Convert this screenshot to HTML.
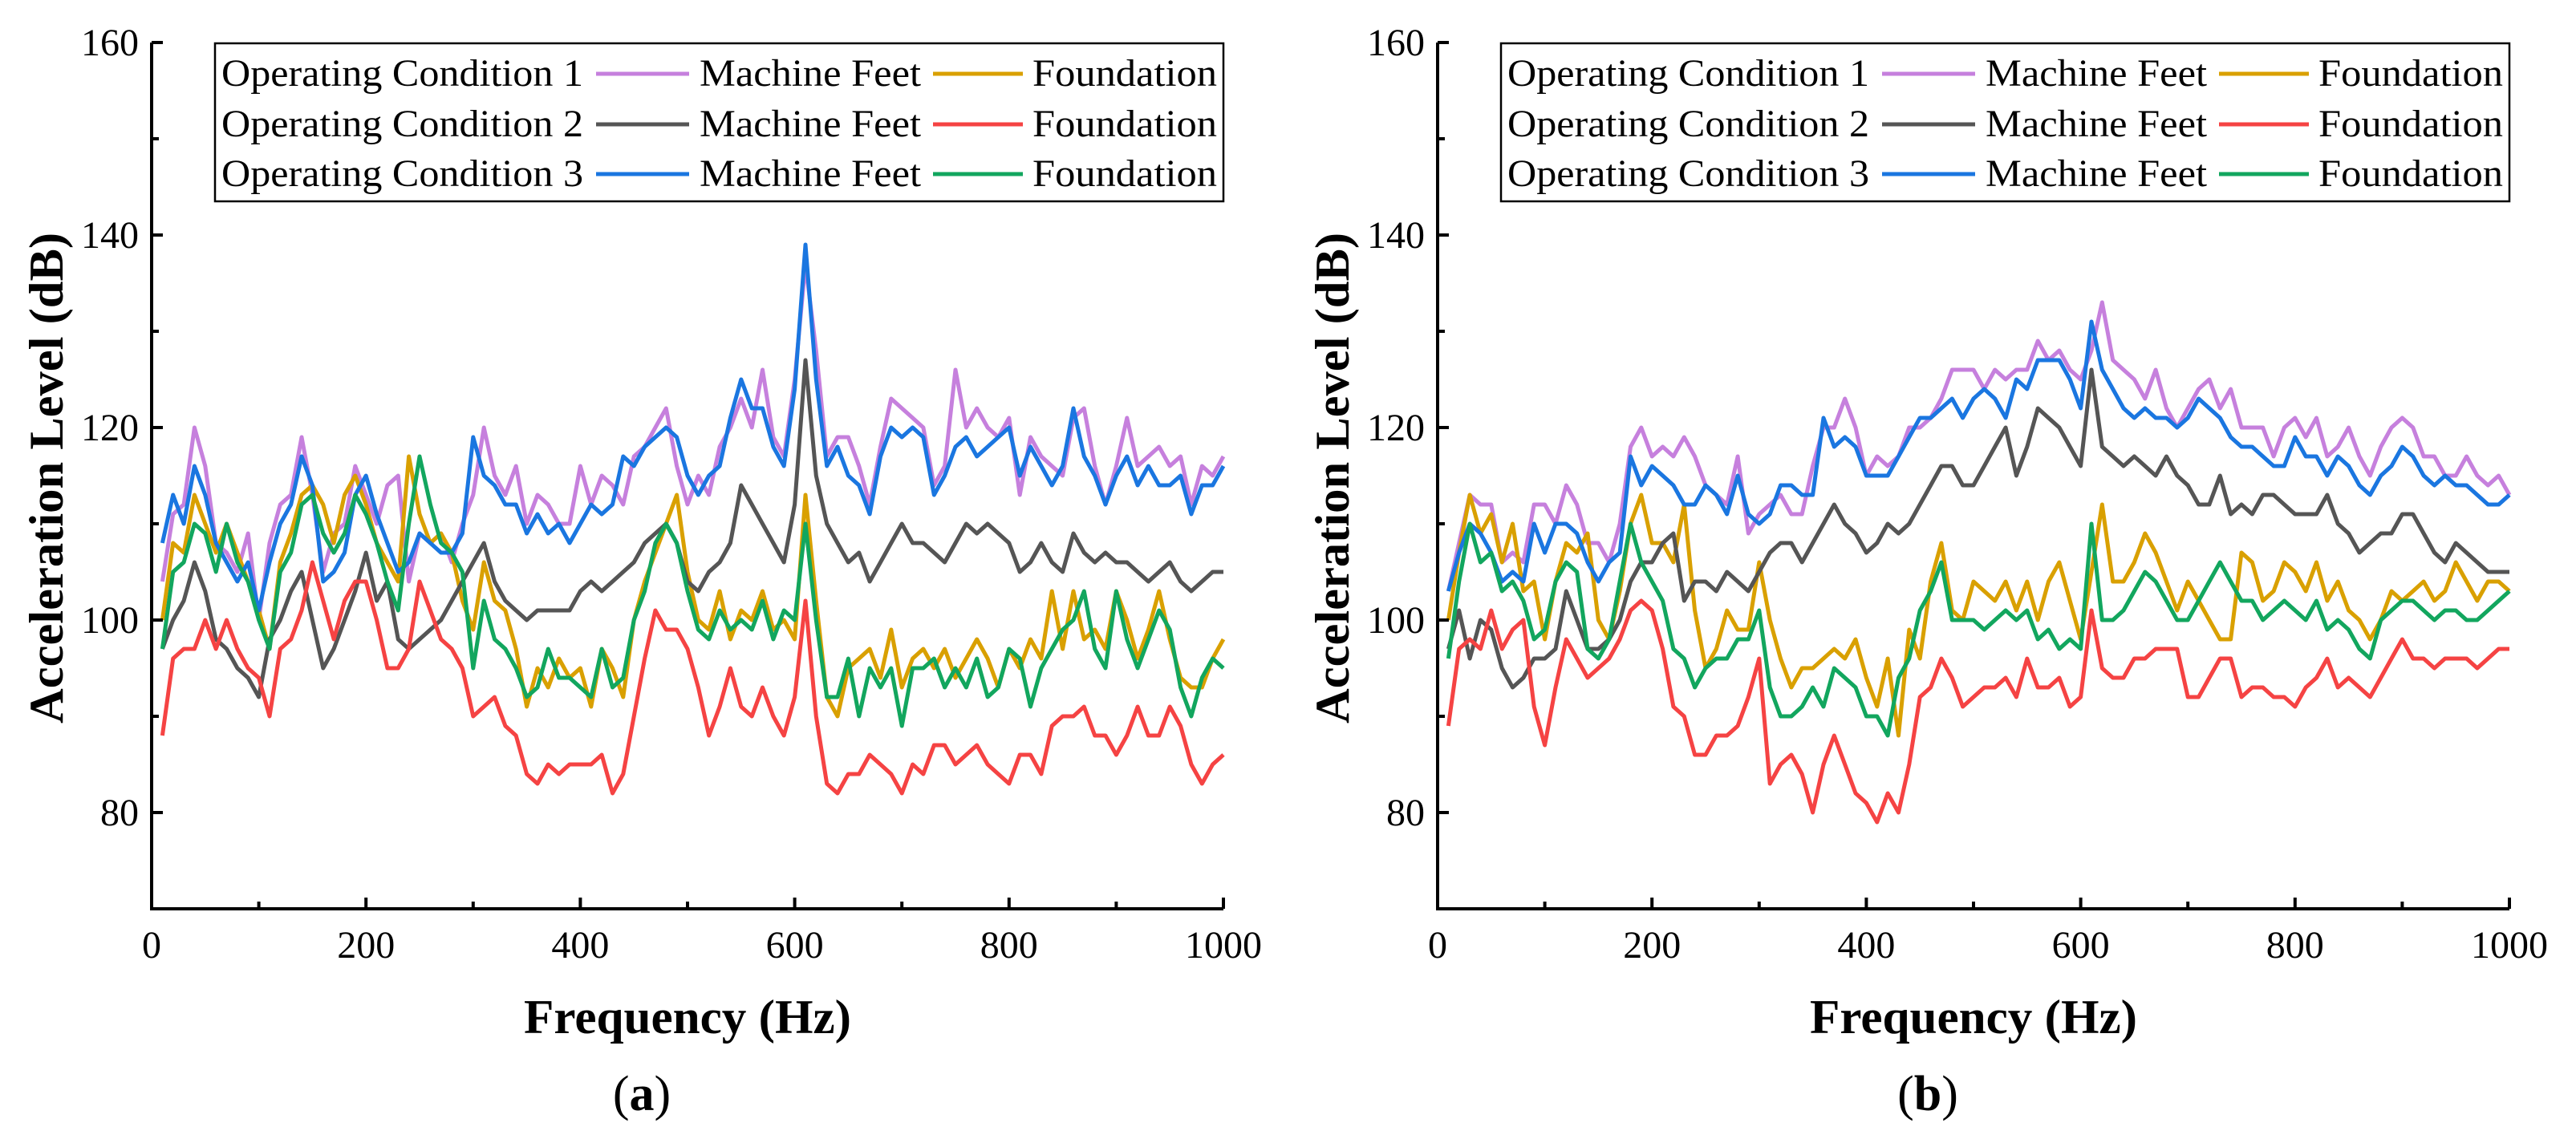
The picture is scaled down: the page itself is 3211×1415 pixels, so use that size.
<!DOCTYPE html>
<html><head><meta charset="utf-8"><style>
html,body{margin:0;padding:0;background:#fff}
svg{display:block}
text{font-family:"Liberation Serif",serif;fill:#000}
</style></head><body>
<svg id="fig" width="3211" height="1415" viewBox="0 0 3211 1415" xmlns="http://www.w3.org/2000/svg"></svg>
<script>
const freqs = [];
for (let f = 10; f <= 1000; f += 10) freqs.push(f);
const xTicks = [0, 200, 400, 600, 800, 1000];
const yTicks = [80, 100, 120, 140, 160];
const seriesNames = ["c1-machine-feet","c1-foundation","c2-machine-feet","c2-foundation","c3-machine-feet","c3-foundation"];
const seriesColors = ["#c680dd","#d9a000","#555555","#f54343","#1a76e0","#12a65e"];

const aC1MF = [104,111,112,120,116,108,107,105,109,100,108,112,113,119,113,105,109,110,116,113,110,114,115,104,109,108,109,106,110,113,120,115,113,116,110,113,112,110,110,116,112,115,114,112,117,118,120,122,116,112,115,113,118,120,123,120,126,119,117,125,137,128,117,119,119,116,112,118,123,122,121,120,114,116,126,120,122,120,119,121,113,119,117,116,115,121,122,116,112,116,121,116,117,118,116,117,112,116,115,117];
const aC3MF = [108,113,110,116,113,108,106,104,106,101,106,110,112,117,114,104,105,107,113,115,111,108,105,106,109,108,107,107,109,119,115,114,112,112,109,111,109,110,108,110,112,111,112,117,116,118,119,120,119,115,113,115,116,121,125,122,122,118,116,124,139,125,116,118,115,114,111,117,120,119,120,119,113,115,118,119,117,118,119,120,115,118,116,114,116,122,117,115,112,115,117,114,116,114,114,115,111,114,114,116];
const aC2MF = [97,100,102,106,103,98,97,95,94,92,98,100,103,105,100,95,97,100,103,107,102,104,98,97,98,99,100,102,104,106,108,104,102,101,100,101,101,101,101,103,104,103,104,105,106,108,109,110,108,104,103,105,106,108,114,112,110,108,106,112,127,115,110,108,106,107,104,106,108,110,108,108,107,106,108,110,109,110,109,108,105,106,108,106,105,109,107,106,107,106,106,105,104,105,106,104,103,104,105,105];
const aC1F = [100,108,107,113,110,107,110,107,104,101,97,106,109,113,114,112,108,113,115,112,108,106,104,117,111,108,109,107,102,99,106,102,101,97,91,95,93,96,94,95,91,97,95,92,100,104,107,110,113,105,100,99,103,98,101,100,103,99,100,98,113,102,92,90,95,96,97,94,99,93,96,97,95,97,94,96,98,96,93,97,95,98,96,103,97,103,98,99,97,103,100,96,99,103,98,94,93,93,96,98];
const aC3F = [97,105,106,110,109,105,110,106,104,100,97,105,107,112,113,109,107,109,113,111,108,104,101,110,117,112,108,107,105,95,102,98,97,95,92,93,97,94,94,93,92,97,93,94,100,103,108,110,108,103,99,98,101,99,100,99,102,98,101,100,110,100,92,92,96,90,95,93,95,89,95,95,96,93,95,93,96,92,93,97,96,91,95,97,99,100,103,97,95,103,98,95,98,101,99,93,90,94,96,95];
const aC2F = [88,96,97,97,100,97,100,97,95,94,90,97,98,101,106,102,98,102,104,104,100,95,95,97,104,101,98,97,95,90,91,92,89,88,84,83,85,84,85,85,85,86,82,84,90,96,101,99,99,97,93,88,91,95,91,90,93,90,88,92,102,90,83,82,84,84,86,85,84,82,85,84,87,87,85,86,87,85,84,83,86,86,84,89,90,90,91,88,88,86,88,91,88,88,91,89,85,83,85,86];

const bC1MF = [103,108,113,112,112,106,107,106,112,112,110,114,112,108,108,106,110,118,120,117,118,117,119,117,114,113,112,117,109,111,112,113,111,111,116,120,120,123,120,115,117,116,117,120,120,121,123,126,126,126,124,126,125,126,126,129,127,128,126,125,128,133,127,126,125,123,126,122,120,122,124,125,122,124,120,120,120,117,120,121,119,121,117,118,120,117,115,118,120,121,120,117,117,115,115,117,115,114,115,113];
const bC3MF = [103,107,110,109,107,104,105,104,110,107,110,110,109,106,104,106,107,117,114,116,115,114,112,112,114,113,111,115,111,110,111,114,114,113,113,121,118,119,118,115,115,115,117,119,121,121,122,123,121,123,124,123,121,125,124,127,127,127,125,122,131,126,124,122,121,122,121,121,120,121,123,122,121,119,118,118,117,116,116,119,117,117,115,117,116,114,113,115,116,118,117,115,114,115,114,114,113,112,112,113];
const bC2MF = [97,101,96,100,99,95,93,94,96,96,97,103,100,97,97,98,100,104,106,106,108,109,102,104,104,103,105,104,103,105,107,108,108,106,108,110,112,110,109,107,108,110,109,110,112,114,116,116,114,114,116,118,120,115,118,122,121,120,118,116,126,118,117,116,117,116,115,117,115,114,112,112,115,111,112,111,113,113,112,111,111,111,113,110,109,107,108,109,109,111,111,109,107,106,108,107,106,105,105,105];
const bC1F = [100,107,113,109,111,106,110,103,104,98,104,108,107,109,100,98,103,110,113,108,108,106,112,101,95,97,101,99,99,106,100,96,93,95,95,96,97,96,98,94,91,96,88,99,96,104,108,101,100,104,103,102,104,101,104,100,104,106,102,98,105,112,104,104,106,109,107,104,101,104,102,100,98,98,107,106,102,103,106,105,103,106,102,104,101,100,98,100,103,102,103,104,102,103,106,104,102,104,104,103];
const bC3F = [96,104,110,106,107,103,104,102,98,99,104,106,105,97,96,98,104,110,106,104,102,97,96,93,95,96,96,98,98,101,93,90,90,91,93,91,95,94,93,90,90,88,94,96,101,103,106,100,100,100,99,100,101,100,101,98,99,97,98,97,110,100,100,101,103,105,104,102,100,100,102,104,106,104,102,102,100,101,102,101,100,102,99,100,99,97,96,100,101,102,102,101,100,101,101,100,100,101,102,103];
const bC2F = [89,97,98,97,101,97,99,100,91,87,93,98,96,94,95,96,98,101,102,101,97,91,90,86,86,88,88,89,92,96,83,85,86,84,80,85,88,85,82,81,79,82,80,85,92,93,96,94,91,92,93,93,94,92,96,93,93,94,91,92,101,95,94,94,96,96,97,97,97,92,92,94,96,96,92,93,93,92,92,91,93,94,96,93,94,93,92,94,96,98,96,96,95,96,96,96,95,96,97,97];

const panelA = [aC1MF, aC1F, aC2MF, aC2F, aC3MF, aC3F];
const panelB = [bC1MF, bC1F, bC2MF, bC2F, bC3MF, bC3F];

const NS = "http://www.w3.org/2000/svg";
const svg = document.getElementById("fig");
function mk(tag, attrs, parent) {
  const e = document.createElementNS(NS, tag);
  for (const k in attrs) e.setAttribute(k, attrs[k]);
  (parent || svg).appendChild(e);
  return e;
}

function drawPanel(off, data, label, id) {
  const g = mk("g", {});
  
  
  const X0 = 189 + off, X1 = 1525 + off, Y0 = 1133, Ytop = 53;
  const xs = f => X0 + (f / 1000) * (X1 - X0);
  const ys = v => Y0 - (v - 70) * (Y0 - Ytop) / 90;

  data.forEach((arr, i) => {
    let d = "";
    arr.forEach((v, j) => { d += (j ? "L" : "M") + xs(freqs[j]).toFixed(1) + "," + ys(v).toFixed(1); });
    const p = mk("path", {d: d, fill: "none", stroke: seriesColors[i], "stroke-width": 5, "stroke-linejoin": "round"}, g);
    
    
  });

  const ax = mk("path", {d: `M${X0},${Ytop} L${X0},${Y0} L${X1},${Y0}`, fill: "none", stroke: "#000", "stroke-width": 4}, g);
  
  
  for (let v = 70; v <= 160; v += 10) {
    const major = (v % 20 === 0);
    const t = mk("line", {x1: X0, x2: X0 + (major ? 14 : 9), y1: ys(v), y2: ys(v), stroke: "#000", "stroke-width": 4}, g);
    
    
  }
  yTicks.forEach(v => {
    const t = mk("text", {x: X0 - 16, y: ys(v) + 16, "text-anchor": "end", "font-size": 48}, g);
    t.textContent = v;
    
    
  });
  for (let f = 100; f <= 1000; f += 100) {
    const major = (f % 200 === 0);
    const t = mk("line", {x1: xs(f), x2: xs(f), y1: Y0, y2: Y0 - (major ? 14 : 9), stroke: "#000", "stroke-width": 4}, g);
    
    
  }
  xTicks.forEach(f => {
    const t = mk("text", {x: xs(f), y: 1194, "text-anchor": "middle", "font-size": 48}, g);
    t.textContent = f;
    
    
  });
  const yt = mk("text", {x: 0, y: 0, transform: `translate(${78 + off},596) rotate(-90)`, "text-anchor": "middle", "font-size": 60, "font-weight": "bold", textLength: 612, lengthAdjust: "spacingAndGlyphs"}, g);
  yt.textContent = "Acceleration Level (dB)";
  
  
  const xt = mk("text", {x: 857 + off, y: 1288, "text-anchor": "middle", "font-size": 60, "font-weight": "bold", textLength: 408, lengthAdjust: "spacingAndGlyphs"}, g);
  xt.textContent = "Frequency (Hz)";
  
  
  const cap = mk("text", {x: 800 + off, y: 1384, "text-anchor": "middle", "font-size": 62}, g);
  cap.innerHTML = '(<tspan font-weight="bold">' + label + '</tspan>)';
  
  

  const lg = mk("g", {}, g);
  
  
  mk("rect", {x: 268 + off, y: 54, width: 1257, height: 197, fill: "#fff", stroke: "#000", "stroke-width": 2.5}, lg);
  const rowsY = [92, 155, 217];
  for (let r = 0; r < 3; r++) {
    const ent = mk("g", {}, lg);
    
    
    const cy = rowsY[r];
    const t1 = mk("text", {x: 276 + off, y: cy + 15, "font-size": 48, textLength: 451, lengthAdjust: "spacingAndGlyphs"}, ent);
    t1.textContent = "Operating Condition " + (r + 1);
    mk("line", {x1: 743 + off, x2: 859 + off, y1: cy, y2: cy, stroke: seriesColors[r * 2], "stroke-width": 5}, ent);
    const t2 = mk("text", {x: 872 + off, y: cy + 15, "font-size": 48, textLength: 276, lengthAdjust: "spacingAndGlyphs"}, ent);
    t2.textContent = "Machine Feet";
    mk("line", {x1: 1163 + off, x2: 1275 + off, y1: cy, y2: cy, stroke: seriesColors[r * 2 + 1], "stroke-width": 5}, ent);
    const t3 = mk("text", {x: 1287 + off, y: cy + 15, "font-size": 48, textLength: 230, lengthAdjust: "spacingAndGlyphs"}, ent);
    t3.textContent = "Foundation";
  }
}
drawPanel(0, panelA, "a", "a");
drawPanel(1603, panelB, "b", "b");
</script>
</body></html>
